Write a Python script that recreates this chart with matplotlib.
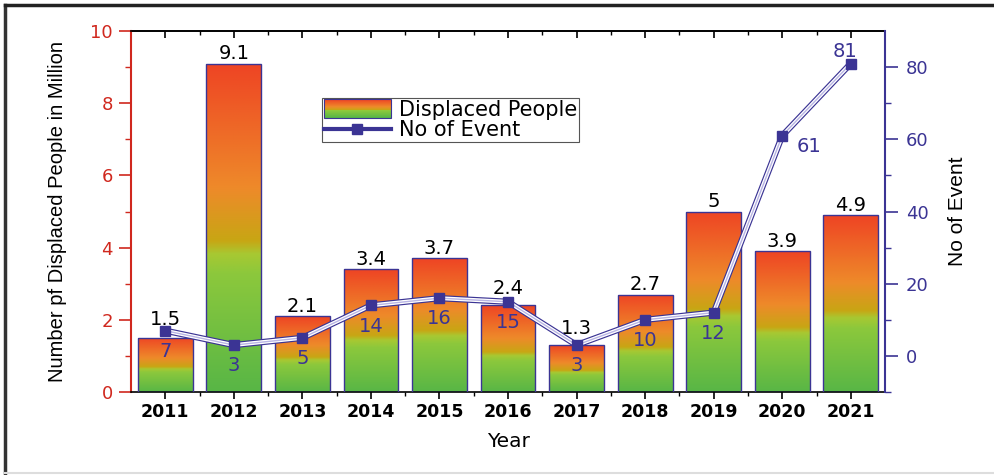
import numpy as np
import matplotlib
matplotlib.use("Agg")
import matplotlib.pyplot as plt
import matplotlib.patheffects as pe
from matplotlib.colors import LinearSegmentedColormap
from matplotlib.legend_handler import HandlerBase
from matplotlib.patches import Rectangle
from matplotlib.lines import Line2D
from matplotlib.ticker import MultipleLocator, FixedLocator

plt.rcParams['font.family'] = ['DejaVu Sans']

years = ['2011', '2012', '2013', '2014', '2015', '2016', '2017', '2018', '2019', '2020', '2021']
displaced = [1.5, 9.1, 2.1, 3.4, 3.7, 2.4, 1.3, 2.7, 5, 3.9, 4.9]
events = [7, 3, 5, 14, 16, 15, 3, 10, 12, 61, 81]

RED = '#d0281e'
NAVY = '#3b3494'

grad = LinearSegmentedColormap.from_list('grad', [
    (0.0, '#58b646'), (0.36, '#8cc83c'), (0.42, '#a8c832'),
    (0.46, '#c8a614'), (0.62, '#ee8a2a'), (1.0, '#ee4424')])


class GradHandler(HandlerBase):
    def create_artists(self, legend, orig, xd, yd, w, h, fontsize, trans):
        arts = []
        n = 20
        y0, hh = yd - 0.15 * h, h * 1.3
        for i in range(n):
            arts.append(Rectangle((xd, y0 + hh * i / n), w, hh / n,
                                  facecolor=grad(i / (n - 1)), edgecolor='none', transform=trans))
        arts.append(Rectangle((xd, y0), w, hh, facecolor='none',
                              edgecolor=NAVY, lw=0.8, transform=trans))
        return arts


fig = plt.figure(figsize=(9.94, 4.75), dpi=100)
ax = fig.add_axes([0.1318, 0.1747, 0.7586, 0.76])
x = np.arange(len(years))

bars = ax.bar(x, displaced, width=0.8, facecolor='none', edgecolor=NAVY, lw=1.0, zorder=3)
g = np.linspace(0, 1, 256).reshape(-1, 1)
bar_off = [13, 7, 7, 7, 7, 12, 12, 7, 7, 7, 7]
for b, h, off in zip(bars, displaced, bar_off):
    im = ax.imshow(g, cmap=grad, origin='lower', aspect='auto',
                   extent=[b.get_x(), b.get_x() + b.get_width(), 0, h], zorder=2)
    im.set_clip_path(b)
    ax.annotate(f'{h:g}', (b.get_x() + b.get_width() / 2, h), xytext=(0, off),
                textcoords='offset points', ha='center', va='center', fontsize=14, color='black')

ax.set_xlim(-0.5, len(years) - 0.5)
ax.set_ylim(0, 10)
ax.set_xticks(x)
ax.set_xticklabels(years, fontsize=12.5, fontweight='bold')
ax.xaxis.set_minor_locator(FixedLocator(x[:-1] + 0.5))
ax.yaxis.set_major_locator(MultipleLocator(2))
ax.yaxis.set_minor_locator(MultipleLocator(1))
ax.tick_params(axis='y', colors=RED, labelsize=13, length=9, width=1.2, direction='out', pad=4)
ax.tick_params(axis='y', which='minor', colors=RED, length=4.5, width=1)
ax.tick_params(axis='x', which='major', direction='out', length=5, width=1.2, pad=3)
ax.tick_params(axis='x', which='minor', direction='out', length=3, width=1)
ax.spines['left'].set_color(RED)
ax.spines['left'].set_linewidth(1.5)
ax.spines['top'].set_linewidth(1.2)
ax.spines['bottom'].set_linewidth(1.2)
ax.spines['right'].set_visible(False)
ax.set_xlabel('Year', fontsize=14.5, labelpad=8)
ax.set_ylabel('Number pf Displaced People in Million', fontsize=14.5,
              family=['Liberation Sans'], labelpad=17)

top = ax.secondary_xaxis('top')
top.set_xticks(x)
top.set_xticklabels([])
top.xaxis.set_minor_locator(FixedLocator(x[:-1] + 0.5))
top.tick_params(which='major', direction='in', length=5, width=1.2)
top.tick_params(which='minor', direction='in', length=3, width=1)
top.spines['top'].set_linewidth(1.2)

ax2 = ax.twinx()
ax2.set_ylim(-10, 90)
ax2.yaxis.set_major_locator(FixedLocator([0, 20, 40, 60, 80]))
ax2.yaxis.set_minor_locator(FixedLocator([-10, 10, 30, 50, 70]))
ax2.tick_params(axis='y', colors=NAVY, labelsize=13, length=9, width=1.2, direction='out', pad=6)
ax2.tick_params(axis='y', which='minor', colors=NAVY, length=4.5, width=1)
for s in ['left', 'top', 'bottom']:
    ax2.spines[s].set_visible(False)
ax2.spines['right'].set_color(NAVY)
ax2.spines['right'].set_linewidth(1.5)
ax2.set_ylabel('No of Event', fontsize=15, family=['Liberation Sans'], labelpad=14)

effects = [pe.Stroke(linewidth=4.5, foreground=NAVY), pe.Stroke(linewidth=2.8, foreground='white'), pe.Normal()]
ln, = ax2.plot(x, events, color='#b8b4e4', lw=1.0, path_effects=effects, zorder=4)
mk, = ax2.plot(x, events, ls='none', marker='s', ms=7, color=NAVY, zorder=5)

ev_off = [(0, -15), (0, -15), (0, -15), (0, -15), (0, -15), (0, -15),
          (0, -15), (0, -15), (0, -15), (19, -8), (-4, 9)]
for xi, v, off in zip(x, events, ev_off):
    ax2.annotate(str(v), (xi, v), xytext=off, textcoords='offset points',
                 ha='center', va='center', fontsize=14, color=NAVY, zorder=6)

leg_line = Line2D([0], [0], color=NAVY, lw=3, marker='s', ms=7)
leg = ax2.legend([Rectangle((0, 0), 1, 1), leg_line],
                 ['Displaced People', 'No of Event'],
                 handler_map={Rectangle: GradHandler()},
                 loc='upper left', bbox_to_anchor=(0.253, 0.815), fontsize=15,
                 frameon=True, fancybox=False, edgecolor='#555555', framealpha=1,
                 borderpad=0.1, labelspacing=0.0, handlelength=3.2, handletextpad=0.4,
                 borderaxespad=0)
leg.get_frame().set_linewidth(0.8)

fig.add_artist(Line2D([0.005, 0.005], [0.005, 0.99], color='#333333', lw=2.5, transform=fig.transFigure))
fig.add_artist(Line2D([0.005, 1.0], [0.99, 0.99], color='#222222', lw=2.5, transform=fig.transFigure))
fig.add_artist(Line2D([0.005, 1.0], [0.004, 0.004], color='#dddddd', lw=1.5, transform=fig.transFigure))

fig.savefig('out.png', dpi=100)
